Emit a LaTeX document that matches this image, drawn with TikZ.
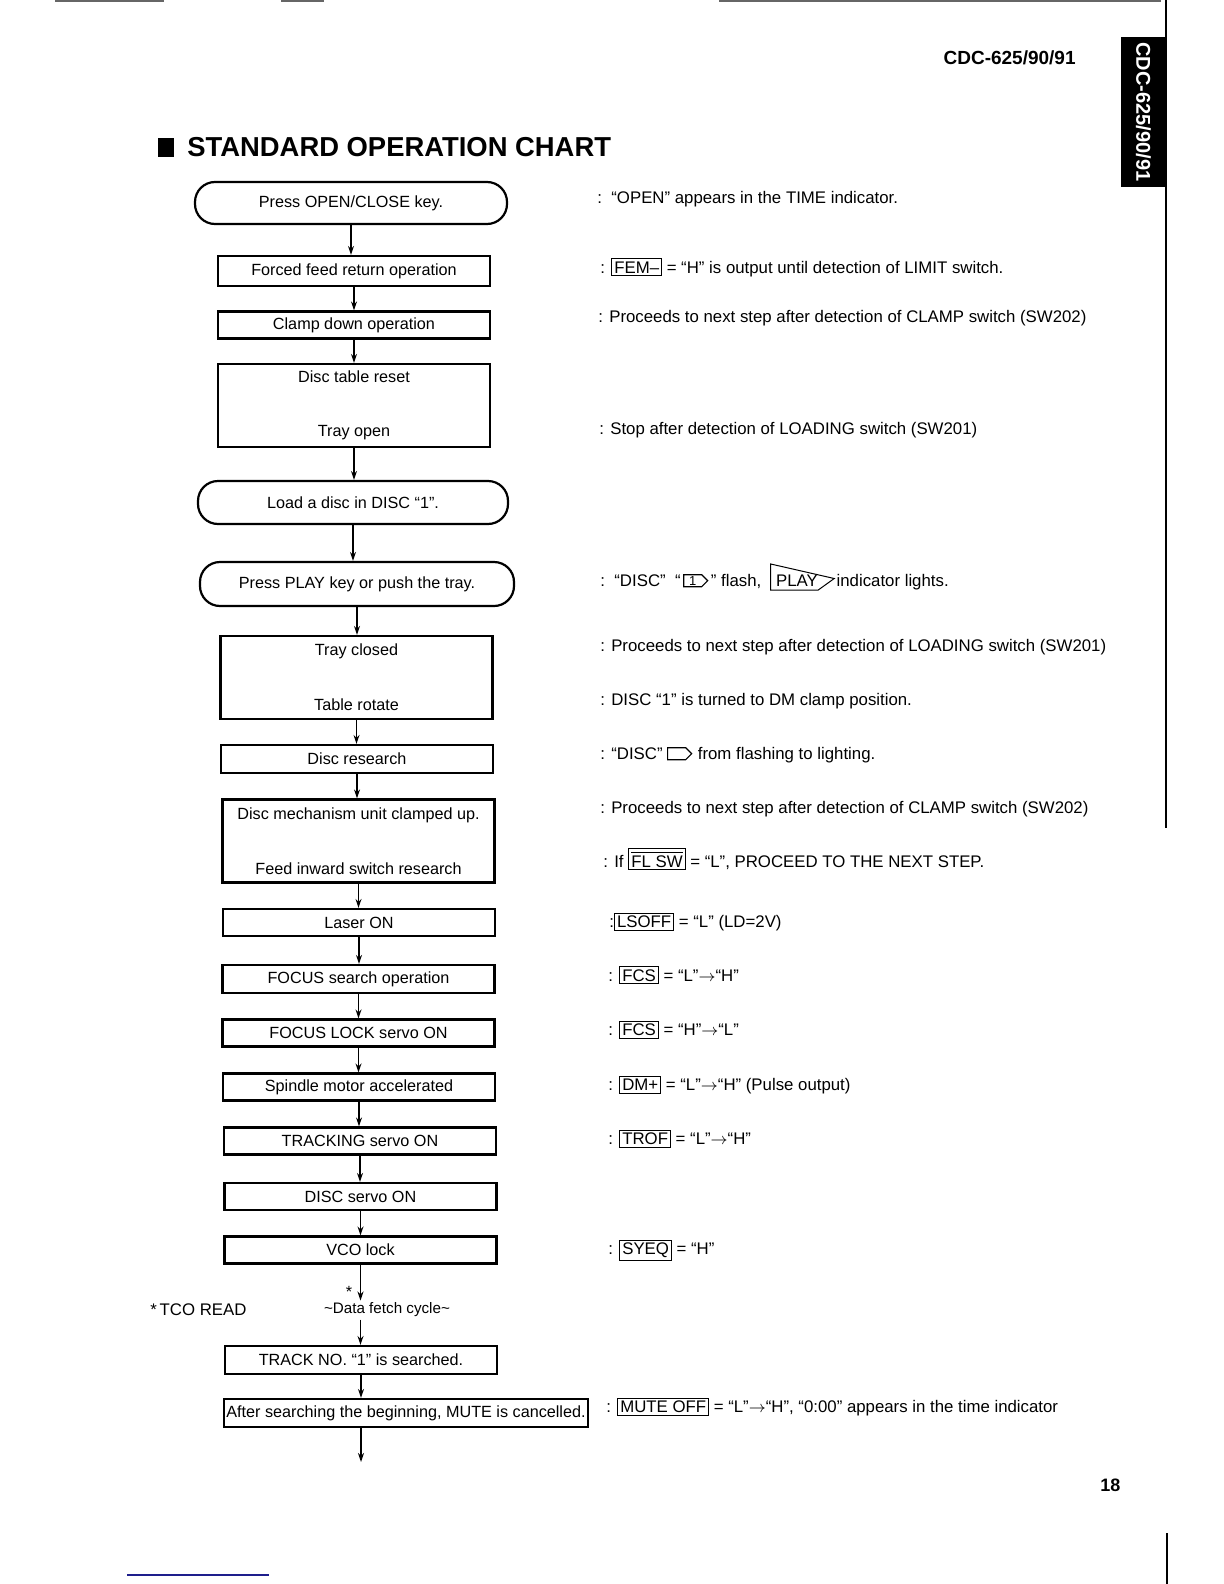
\documentclass[tikz,border=0pt]{standalone}
\usepackage{fontspec}
\setmainfont{Liberation Sans}
\usetikzlibrary{arrows.meta,calc,positioning,shapes.symbols}
\definecolor{scanblue}{RGB}{30,30,140}
\newcommand\boxfont{\fontsize{8.1}{9.7}\selectfont}
\newcommand\notefont{\fontsize{8.4}{10}\selectfont}
\newcommand\sig[1]{{\setlength\fboxsep{1pt}\setlength\fboxrule{0.5pt}\fbox{\vphantom{A}#1}}}
\tikzset{arr/.style={-{Stealth[length=4.5pt,width=3pt]}, line width=0.7pt},
  stepbox/.style={draw, line width=1.1pt, minimum width=136pt, minimum height=13.5pt, inner sep=1pt, align=center, font=\boxfont},
  tallbox/.style={minimum height=41.5pt},
  term/.style={stepbox, rounded corners=10pt},
  note/.style={anchor=base west, inner sep=0pt, font=\notefont},
  arrbox/.style={draw, signal, signal to=east, line width=0.6pt, inner sep=0.8pt, minimum width=12pt, minimum height=6pt, font=\fontsize{6.5}{7}\selectfont},
  scan/.style={line width=0.8pt, black!60}}

\begin{document}
\begin{tikzpicture}[x=0.5pt, y=-0.5pt]
  \useasboundingbox (0,0) rectangle (1224,1584);
  % page edges
  \draw[scan] (55,1) -- (164,1);
  \draw[scan] (281,1) -- (324,1);
  \draw[scan, line width=1.4pt] (719,1) -- (1161,1);
  \draw[line width=0.7pt] (1166,0) -- (1166,828);
  \draw[line width=0.7pt] (1167,1533) -- (1167,1584);
  \draw[line width=1pt, scanblue] (127,1575) -- (269,1575);
  % header
  \node[anchor=base east, inner sep=0, font=\bfseries\fontsize{9.5}{11}\selectfont] (model) at (1076,65) {CDC-625/90/91};
  \node[fill=black, text=white, rotate=-90, minimum width=75pt, minimum height=22.5pt, inner sep=0, font=\bfseries\fontsize{10}{12}\selectfont] (tab) at (1143.5,112) {CDC-625/90/91};
  \node[fill, inner sep=0, minimum width=7.75pt, minimum height=9.25pt] (bullet) at (166,147.3) {};
  \node[anchor=base west, inner sep=0, font=\bfseries\fontsize{13.7}{16}\selectfont] (title) at (187,156) {STANDARD OPERATION CHART};
  \node[anchor=base west, inner sep=0, font=\bfseries\fontsize{9}{11}\selectfont] (pageno) at (1100,1491) {18};

  % flow chart
  \node[term, minimum width=156pt, minimum height=21pt] (open) at (351,203) {Press OPEN/CLOSE key.};
  \node[stepbox, minimum height=15pt] (feed) at (354,271) {Forced feed return operation};
  \node[stepbox] (clamp) at (354,325) {Clamp down operation};
  \node[stepbox, tallbox] (reset) at (354,405.5) {Disc table reset\\[17pt]Tray open};
  \node[term, minimum width=155pt, minimum height=21.5pt] (load) at (353,502.5) {Load a disc in DISC “1”.};
  \node[term, minimum width=157pt, minimum height=22pt] (play) at (357,584) {Press PLAY key or push the tray.};
  \node[stepbox, tallbox] (tray) at (356.5,677.5) {Tray closed\\[18pt]Table rotate};
  \node[stepbox, minimum height=14pt] (search) at (357,759) {Disc research};
  \node[stepbox, tallbox] (mech) at (358.5,841) {Disc mechanism unit clamped up.\\[18pt]Feed inward switch research};
  \node[stepbox] (laser) at (359,922.5) {Laser ON};
  \node[stepbox, minimum height=14pt] (fsearch) at (358.5,979) {FOCUS search operation};
  \node[stepbox] (flock) at (358.5,1033) {FOCUS LOCK servo ON};
  \node[stepbox] (spindle) at (359,1087) {Spindle motor accelerated};
  \node[stepbox] (track) at (360,1141) {TRACKING servo ON};
  \node[stepbox] (disc) at (360.5,1196.5) {DISC servo ON};
  \node[stepbox] (vco) at (360.5,1250) {VCO lock};
  \node[inner sep=1pt, font=\fontsize{7.6}{9}\selectfont] (fetch) at (387,1310) {\textasciitilde Data fetch cycle\textasciitilde};
  \node[inner sep=0, font=\boxfont] (ast) at (349,1292) {*};
  \node[note] (tco) at (150,1315) {*\,TCO READ};
  \node[stepbox, minimum height=14pt] (trackno) at (361,1360) {TRACK NO. “1” is searched.};
  \node[stepbox, minimum width=182pt, minimum height=14pt] (mute) at (406,1413) {After searching the beginning, MUTE is cancelled.};
  \coordinate (end) at (361,1462);

  \foreach \a/\b in {open/feed, feed/clamp, clamp/reset, reset/load, load/play, play/tray,
    tray/search, search/mech, mech/laser, laser/fsearch, fsearch/flock, flock/spindle,
    spindle/track, track/disc, disc/vco, trackno/mute}
    \draw[arr] (\a.south) -- (\a.south |- \b.north);
  \draw[arr] (vco.south) -- (vco.south |- fetch.north);
  \draw[arr] (vco.south |- fetch.south) -- (vco.south |- trackno.north);
  \draw[arr] (trackno.south |- mute.south) -- (trackno.south |- end);

  % notes on the right
  \node[note] (n1) at (597,203.5) {:\ \ “OPEN” appears in the TIME indicator.};
  \node[note] (n2) at (600,273) {: \sig{FEM–} = “H” is output until detection of LIMIT switch.};
  \node[note] (n3) at (598,322.5) {: Proceeds to next step after detection of CLAMP switch (SW202)};
  \node[note] (n4) at (599,434.5) {: Stop after detection of LOADING switch (SW201)};
  \node[note] (n5) at (600,586.5) {:\ \ “DISC”\ \ “};
  \node[arrbox, right=1pt of n5] (disc1) {1};
  \node[note] (n5b) at ($(disc1.east |- n5.base)+(2,0)$) {” flash,};
  \node[note, base right=7pt of n5b] (playtxt) {PLAY};
  \draw[line width=0.5pt] ($(playtxt.base west)+(-5,-22.5)$) -- ($(playtxt.base east)+(16,-8)$)
    -- ($(playtxt.base east)+(0,3.5)$) -- ($(playtxt.base west)+(-5,3.5)$) -- cycle;
  \node[note, base right=9pt of playtxt] (n5c) {indicator lights.};
  \node[note] (n6) at (600,651.5) {: Proceeds to next step after detection of LOADING switch (SW201)};
  \node[note] (n7) at (600,705.5) {: DISC “1” is turned to DM clamp position.};
  \node[note] (n8) at (600,759.5) {: “DISC”};
  \node[arrbox, right=2pt of n8] (disc2) {\phantom{1}};
  \node[note] (n8b) at ($(disc2.east |- n8.base)+(5,0)$) {from flashing to lighting.};
  \node[note] (n9) at (600,813.5) {: Proceeds to next step after detection of CLAMP switch (SW202)};
  \node[note] (n10) at (603,867) {: If \sig{$\overline{\hbox{FL SW}}$} = “L”, PROCEED TO THE NEXT STEP.};
  \node[note] (n11) at (609,927.5) {:\sig{LSOFF} = “L” (LD=2V)};
  \node[note] (n12) at (608,981) {: \sig{FCS} = “L”$\rightarrow$“H”};
  \node[note] (n13) at (608,1035.5) {: \sig{FCS} = “H”$\rightarrow$“L”};
  \node[note] (n14) at (608,1090.5) {: \sig{DM+} = “L”$\rightarrow$“H” (Pulse output)};
  \node[note] (n15) at (608,1144.5) {: \sig{TROF} = “L”$\rightarrow$“H”};
  \node[note] (n16) at (608,1254.5) {: \sig{SYEQ} = “H”};
  \node[note] (n17) at (606,1412.5) {: \sig{MUTE OFF} = “L”$\rightarrow$“H”, “0:00” appears in the time indicator};
\end{tikzpicture}
\end{document}
